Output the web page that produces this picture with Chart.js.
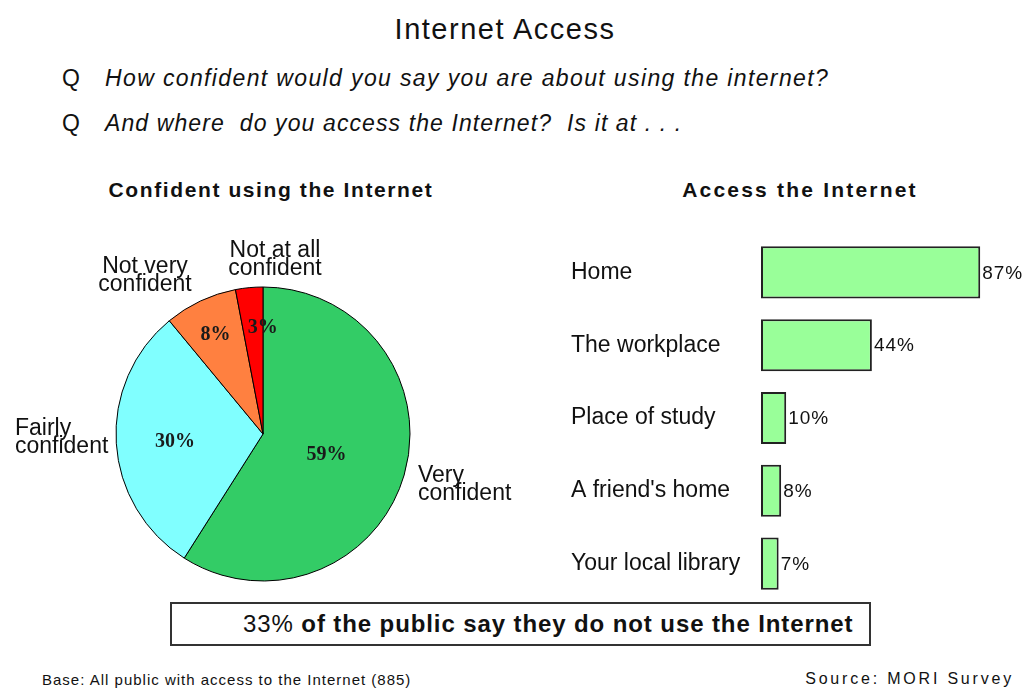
<!DOCTYPE html>
<html>
<head>
<meta charset="utf-8">
<script src="https://cdn.jsdelivr.net/npm/chart.js@4.4.1/dist/chart.umd.min.js"></script>
<style>
  html, body { margin:0; padding:0; background:#fff; }
  body { width:1029px; height:689px; position:relative; overflow:hidden;
         font-family:"Liberation Sans", Arial, sans-serif; color:#111; }
  .t { position:absolute; white-space:pre; line-height:1; }
  .lbl { position:absolute; white-space:pre; font-size:23px; line-height:18px; color:#111; }
  canvas { position:absolute; }
  #box { position:absolute; left:170px; top:602px; width:697px; height:40px; border:2px solid #333; }
</style>
</head>
<body>
  <div class="t" id="title" style="left:0; width:1010px; text-align:center; top:15px; font-size:29px; letter-spacing:1.5px;"></div>
  <div class="t" style="left:62px; top:67px; font-size:23px;">Q</div>
  <div class="t" id="q1" style="left:105px; top:67px; font-size:23px; font-style:italic; letter-spacing:1.37px;"></div>
  <div class="t" style="left:62px; top:112px; font-size:23px;">Q</div>
  <div class="t" id="q2" style="left:105px; top:112px; font-size:23px; font-style:italic; letter-spacing:1.1px;"></div>

  <div class="t" id="h1" style="left:71px; width:400px; text-align:center; top:179px; font-size:21px; font-weight:bold; letter-spacing:1.6px;"></div>
  <div class="t" id="h2" style="left:600px; width:400px; text-align:center; top:179px; font-size:21px; font-weight:bold; letter-spacing:2.2px;"></div>

  <canvas id="pie" width="320" height="320" style="left:103px; top:274px;"></canvas>
  <div class="lbl" id="l3" style="left:215px; width:120px; text-align:center; top:240px;"></div>
  <div class="lbl" id="l2" style="left:85px; width:120px; text-align:center; top:256px;"></div>
  <div class="lbl" id="l1" style="left:15px; top:418px;"></div>
  <div class="lbl" id="l0" style="left:418px; top:465px;"></div>

  <canvas id="bar" width="458" height="364" style="left:571px; top:236px;"></canvas>

  <div id="box"></div>
  <div class="t" id="note" style="left:243px; top:612px; font-size:24px; letter-spacing:0.9px;"></div>

  <div class="t" id="base" style="left:42px; top:672px; font-size:15px; letter-spacing:1px;"></div>
  <div class="t" id="src" style="right:15px; top:671px; font-size:16px; letter-spacing:2.8px;"></div>

<script>
// ---- text ----
const titleText = "Internet Access";
const question1 = "How confident would you say you are about using the internet?";
const question2 = "And where  do you access the Internet?  Is it at . . .";
const pieTitle = "Confident using the Internet";
const barTitle = "Access the Internet";
const noteLead = "33%";
const noteRest = " of the public say they do not use the Internet";
const baseText = "Base: All public with access to the Internet (885)";
const sourceText = "Source: MORI Survey";

// ---- pie data ----
const pieCategories = ["Very\nconfident", "Fairly\nconfident", "Not very\nconfident", "Not at all\nconfident"];
const pieValues = [59, 30, 8, 3];
const pieColors = ["#33CC66", "#80FFFF", "#FF8040", "#FF0000"];
const pieLabelRadius = [0.45, 0.6, 0.76, 0.74];
const pieLabelShiftX = [0, 0, 0, 10];

// ---- bar data ----
const barCategories = ["Home", "The workplace", "Place of study", "A friend's home", "Your local library"];
const barValues = [87, 44, 10, 8, 7];

// fill text
document.getElementById('title').textContent = titleText;
document.getElementById('q1').textContent = question1;
document.getElementById('q2').textContent = question2;
document.getElementById('h1').textContent = pieTitle;
document.getElementById('h2').textContent = barTitle;
pieCategories.forEach((c, i) => { document.getElementById('l' + i).textContent = c; });
document.getElementById('note').innerHTML = '<span>' + noteLead + '</span><b>' + noteRest + '</b>';
document.getElementById('base').textContent = baseText;
document.getElementById('src').textContent = sourceText;

const FONT = '"Liberation Sans", Arial, sans-serif';

// pie inner labels
const pieLabels = {
  id: 'pieLabels',
  afterDatasetsDraw(chart) {
    const ctx = chart.ctx;
    const meta = chart.getDatasetMeta(0);
    ctx.save();
    ctx.font = 'bold 20px "Liberation Serif", "Times New Roman", serif';
    ctx.fillStyle = '#1a1a1a';
    ctx.textAlign = 'center';
    ctx.textBaseline = 'middle';
    meta.data.forEach((arc, i) => {
      const p = arc.getProps(['x', 'y', 'startAngle', 'endAngle', 'outerRadius'], true);
      const mid = (p.startAngle + p.endAngle) / 2;
      const r = p.outerRadius * pieLabelRadius[i];
      ctx.fillText(pieValues[i] + '%', p.x + Math.cos(mid) * r + pieLabelShiftX[i], p.y + Math.sin(mid) * r + 2);
    });
    ctx.restore();
  }
};

new Chart(document.getElementById('pie'), {
  type: 'pie',
  data: {
    labels: pieCategories.map(s => s.replace('\n', ' ')),
    datasets: [{ data: pieValues, backgroundColor: pieColors, borderColor: '#000', borderWidth: 1 }]
  },
  options: {
    responsive: false, animation: false, devicePixelRatio: 1,
    radius: 147,
    plugins: { legend: { display: false }, tooltip: { enabled: false } }
  },
  plugins: [pieLabels]
});

// bar value labels
const barLabels = {
  id: 'barLabels',
  afterDatasetsDraw(chart) {
    const ctx = chart.ctx;
    const meta = chart.getDatasetMeta(0);
    ctx.save();
    ctx.font = '19px ' + FONT;
    ctx.letterSpacing = '1px';
    ctx.fillStyle = '#111';
    ctx.textAlign = 'left';
    ctx.textBaseline = 'middle';
    meta.data.forEach((bar, i) => {
      ctx.fillText(barValues[i] + '%', bar.x + 2, bar.y + 1);
    });
    ctx.restore();
  }
};

new Chart(document.getElementById('bar'), {
  type: 'bar',
  data: {
    labels: barCategories,
    datasets: [{ data: barValues, backgroundColor: '#99FF99', borderColor: '#222', borderWidth: 2, borderSkipped: false,
                 barPercentage: 0.715, categoryPercentage: 1 }]
  },
  options: {
    indexAxis: 'y',
    responsive: false, animation: false, devicePixelRatio: 1,
    layout: { padding: { left: 0, right: 16, top: 0, bottom: 0 } },
    scales: {
      x: { min: 0, max: 100, display: false },
      y: {
        grid: { display: false, drawTicks: false },
        border: { display: false },
        ticks: { crossAlign: 'far', padding: 0, color: '#111', font: { family: FONT, size: 23 } },
        afterFit(scale) { scale.width = 190; scale.paddingTop = 0; scale.paddingBottom = 0; }
      }
    },
    plugins: { legend: { display: false }, tooltip: { enabled: false } }
  },
  plugins: [barLabels]
});
</script>
</body>
</html>
